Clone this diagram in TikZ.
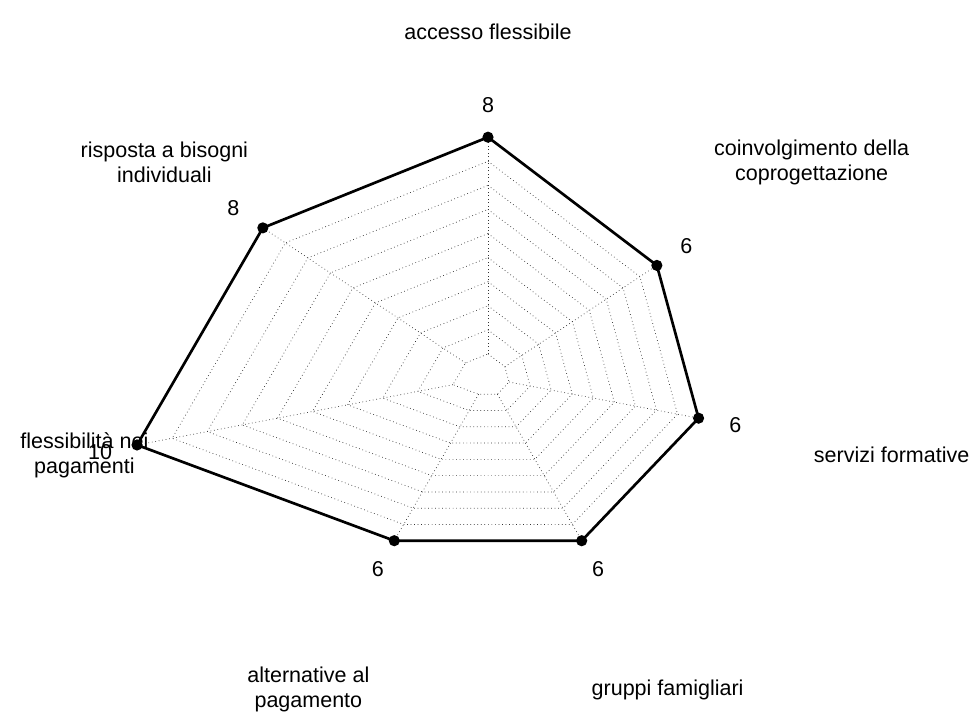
\documentclass[tikz,border=0pt]{standalone}
\usepackage{fontspec}
\setmainfont{Liberation Sans}
\usepackage{tikz}
\usetikzlibrary{calc}

\begin{document}
\begin{tikzpicture}[
    x=0.9cm, y=0.7525cm,
    grid/.style={dotted, line width=0.5pt, black!80},
    datapoly/.style={line width=1.9pt, line join=round},
    datadot/.style={circle, fill, inner sep=0pt, minimum size=2.8mm},
    axislabel/.style={align=center, font=\fontsize{15.3}{17.8}\selectfont},
    valuelabel/.style={font=\fontsize{15.3}{17.8}\selectfont}
]
    % Page
    \useasboundingbox (-12.2cm,-8.525cm) rectangle (12.1cm,9.45cm);

    % Data points
    \coordinate (c) at (0,0);
    \foreach \k/\v in {0/8, 1/6, 2/6, 3/6, 4/6, 5/10, 6/8}
        \coordinate (p\k) at ({90-\k*360/7}:\v);

    % Grid (scaled copies of the data polygon)
    \foreach \j in {1,...,9}
        \draw[grid] ($(c)!\j/10!(p0)$) \foreach \k in {1,...,6} { -- ($(c)!\j/10!(p\k)$) } -- cycle;
    \foreach \k in {0,...,6}
        \draw[grid] ($(c)!0.1!(p\k)$) -- (p\k);

    % Data
    \draw[datapoly] (p0) -- (p1) -- (p2) -- (p3) -- (p4) -- (p5) -- (p6) -- cycle;
    \foreach \k in {0,...,6}
        \node[datadot] (d\k) at (p\k) {};

    % Values
    \foreach \k/\v in {0/8, 1/6, 2/6, 3/6, 4/6, 5/10, 6/8} {
        \pgfmathsetmacro\rad{\v+1.05}
        \node[valuelabel] (v\k) at ({90-\k*360/7}:\rad) {\v};
    }

    % Axis labels
    \foreach \k/\txt in {0/{accesso flessibile},
                         1/{coinvolgimento della\\coprogettazione},
                         2/{servizi formative},
                         3/{gruppi famigliari},
                         4/{alternative al\\pagamento},
                         5/{flessibilità nei\\pagamenti},
                         6/{risposta a bisogni\\individuali}}
        \node[axislabel] (a\k) at ({90-\k*360/7}:11.5) {\txt};
\end{tikzpicture}
\end{document}
